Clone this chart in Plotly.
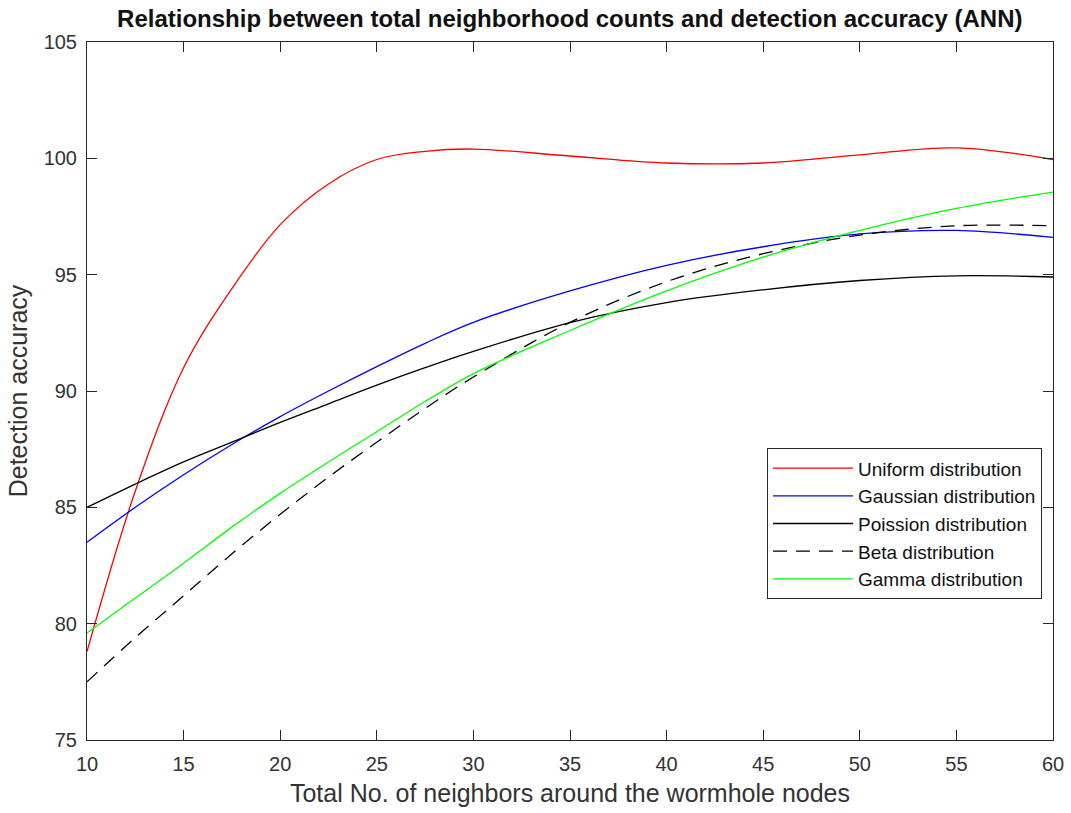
import plotly.graph_objects as go

# Data
neighbors = [10, 12.5, 15, 17.5, 20, 22.5, 25, 27.5, 30, 35, 40, 45, 50, 55, 60]
uniform  = [78.8, 85.7, 91.0, 94.4, 97.15, 98.9, 99.95, 100.3, 100.4, 100.1, 99.8, 99.8, 100.15, 100.45, 99.95]
gaussian = [83.5, 85.0, 86.4, 87.7, 88.9, 90.0, 91.05, 92.05, 92.95, 94.3, 95.4, 96.2, 96.75, 96.9, 96.6]
poisson  = [85.0, 86.0, 86.95, 87.8, 88.65, 89.45, 90.25, 91.0, 91.7, 92.94, 93.8, 94.35, 94.75, 94.95, 94.9]
beta     = [77.5, 79.4, 81.2, 83.0, 84.7, 86.3, 87.8, 89.25, 90.6, 92.95, 94.7, 95.9, 96.7, 97.1, 97.1]
gamma    = [79.6, 81.1, 82.6, 84.15, 85.6, 86.95, 88.25, 89.55, 90.75, 92.6, 94.3, 95.75, 96.9, 97.85, 98.55]

series_names = ["Uniform distribution", "Gaussian distribution", "Poission distribution",
                "Beta distribution", "Gamma distribution"]
x_ticks = [10, 15, 20, 25, 30, 35, 40, 45, 50, 55, 60]
y_ticks = [75, 80, 85, 90, 95, 100, 105]

FONT = "Liberation Sans, Arial, Helvetica, sans-serif"

fig = go.Figure()
styles = [
    (uniform, "#ff0000", "solid"),
    (gaussian, "#0000ff", "solid"),
    (poisson, "#000000", "solid"),
    (beta, "#000000", "14px,9px"),
    (gamma, "#00ff00", "solid"),
]
for name, (vals, color, dash) in zip(series_names, styles):
    fig.add_trace(go.Scatter(
        x=neighbors, y=vals, mode="lines", name=name,
        line=dict(color=color, width=1.3, dash=dash, shape="spline", smoothing=1.0),
    ))

axis_common = dict(
    showline=True, linecolor="#262626", linewidth=1, mirror="ticks",
    ticks="inside", ticklen=10, tickcolor="#262626", tickwidth=1,
    showgrid=False, zeroline=False, automargin=False,
    tickfont=dict(family=FONT, size=20, color="#333333"),
)

fig.update_layout(
    width=1071, height=813,
    margin=dict(l=87, r=18, t=42, b=73),
    paper_bgcolor="white", plot_bgcolor="white",
    title=dict(
        text="<b>Relationship between total neighborhood counts and detection accuracy (ANN)</b>",
        x=0.532, xanchor="center", y=1 - 19 / 813, yanchor="middle",
        font=dict(family=FONT, size=24, color="#111111"),
    ),
    xaxis=dict(
        range=[10, 60], tickvals=x_ticks, ticklabelstandoff=6,
        title=dict(text="Total No. of neighbors around the wormhole nodes",
                   font=dict(family=FONT, size=25, color="#333333"), standoff=10),
        **axis_common,
    ),
    yaxis=dict(
        range=[75, 105], tickvals=y_ticks, ticklabelstandoff=5,
        title=dict(text="Detection accuracy",
                   font=dict(family=FONT, size=25, color="#333333"), standoff=8),
        **axis_common,
    ),
    legend=dict(
        x=0.9886, xanchor="right", y=0.418, yanchor="top",
        bgcolor="white", bordercolor="#262626", borderwidth=1,
        font=dict(family=FONT, size=19, color="#111111"),
        tracegroupgap=0, itemwidth=80,
    ),
    showlegend=True,
)

fig.write_html("out.html")
